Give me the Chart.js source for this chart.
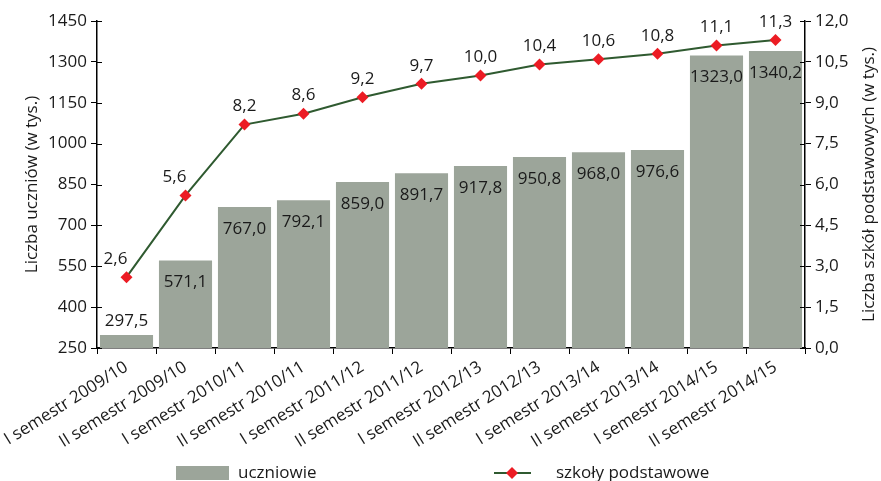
<!DOCTYPE html>
<html>
<head>
<meta charset="utf-8">
<script src="https://cdn.jsdelivr.net/npm/chart.js@4"></script>
<style>
  html, body { margin: 0; padding: 0; background: #fff; }
  #wrap { width: 881px; height: 481px; }
</style>
</head>
<body>
<div id="wrap"><canvas id="chart" width="881" height="481"></canvas></div>
<script>
// =======================
// DATA
// =======================

const categories = [
  "I semestr 2009/10", "II semestr 2009/10",
  "I semestr 2010/11", "II semestr 2010/11",
  "I semestr 2011/12", "II semestr 2011/12",
  "I semestr 2012/13", "II semestr 2012/13",
  "I semestr 2013/14", "II semestr 2013/14",
  "I semestr 2014/15", "II semestr 2014/15"
];

// liczba uczniów (w tys.)
const uczniowie = [297.5, 571.1, 767.0, 792.1, 859.0, 891.7, 917.8, 950.8, 968.0, 976.6, 1323.0, 1340.2];

// liczba szkół podstawowych (w tys.)
const szkoly = [2.6, 5.6, 8.2, 8.6, 9.2, 9.7, 10.0, 10.4, 10.6, 10.8, 11.1, 11.3];

const seriesNames = ["uczniowie", "szkoły podstawowe"];
const axisTitles = ["Liczba uczniów (w tys.)", "Liczba szkół podstawowych (w tys.)"];

// =======================
// STYLE
// =======================

const FONT = "'Open Sans', sans-serif";
const BAR_COLOR = "#9ca59a";
const LINE_COLOR = "#2f5a30";
const MARK_COLOR = "#ec1c24";
const TEXT_COLOR = "#1a1a1a";

function fmt(v, d) {
  return v.toFixed(d).replace(".", ",");
}

// =======================
// PLUGINS
// =======================

const valueLabels = {
  id: "valueLabels",
  afterDatasetsDraw(chart) {
    const ctx = chart.ctx;
    const bottom = chart.chartArea.bottom;
    ctx.save();
    ctx.font = "17px " + FONT;
    ctx.fillStyle = TEXT_COLOR;
    ctx.textAlign = "center";
    ctx.textBaseline = "middle";

    // bars (dataset 1)
    chart.getDatasetMeta(1).data.forEach((bar, i) => {
      const h = bottom - bar.y;
      const y = h < 35 ? bar.y - 14 : bar.y + 22;
      ctx.fillText(fmt(uczniowie[i], 1), bar.x, y);
    });

    // line points (dataset 0)
    const pts = chart.getDatasetMeta(0).data;
    pts.forEach((p, i) => {
      let dx = 0;
      if (i < pts.length - 1 && p.y - pts[i + 1].y > 40) dx = -11;
      ctx.fillText(fmt(szkoly[i], 1), p.x + dx, p.y - 18);
    });
    ctx.restore();
  }
};

const extras = {
  id: "extras",
  afterDraw(chart) {
    const ctx = chart.ctx;
    const area = chart.chartArea;
    ctx.save();

    // inner half of the y tick marks (ticks cross the axis line)
    ctx.strokeStyle = "#000";
    ctx.lineWidth = 1;
    const yl = chart.scales.y, yr = chart.scales.y1;
    ctx.beginPath();
    yl.ticks.forEach(t => {
      const py = Math.round(yl.getPixelForValue(t.value)) + 0.5;
      ctx.moveTo(area.left, py);
      ctx.lineTo(area.left + 5, py);
    });
    yr.ticks.forEach(t => {
      const py = Math.round(yr.getPixelForValue(t.value)) + 0.5;
      ctx.moveTo(area.right, py);
      ctx.lineTo(area.right - 5, py);
    });
    ctx.stroke();

    ctx.font = "17px " + FONT;
    ctx.fillStyle = TEXT_COLOR;

    // right axis title, reading bottom to top
    ctx.save();
    ctx.translate(869, (area.top + area.bottom) / 2);
    ctx.rotate(-Math.PI / 2);
    ctx.textAlign = "center";
    ctx.textBaseline = "middle";
    ctx.fillText(axisTitles[1], 0, 0);
    ctx.restore();

    // legend
    const y = 473;
    ctx.textBaseline = "middle";
    ctx.textAlign = "left";

    ctx.fillStyle = BAR_COLOR;
    ctx.fillRect(176, 466, 53, 14);
    ctx.fillStyle = TEXT_COLOR;
    ctx.fillText(seriesNames[0], 238, y);

    ctx.strokeStyle = LINE_COLOR;
    ctx.lineWidth = 2;
    ctx.beginPath();
    ctx.moveTo(494, y);
    ctx.lineTo(531, y);
    ctx.stroke();
    ctx.fillStyle = MARK_COLOR;
    ctx.beginPath();
    ctx.moveTo(512, y - 6);
    ctx.lineTo(518, y);
    ctx.lineTo(512, y + 6);
    ctx.lineTo(506, y);
    ctx.closePath();
    ctx.fill();
    ctx.fillStyle = TEXT_COLOR;
    ctx.fillText(seriesNames[1], 556, y);
    ctx.restore();
  }
};

// =======================
// CHART
// =======================

Chart.defaults.font.family = FONT;
Chart.defaults.color = TEXT_COLOR;

const ctx = document.getElementById("chart").getContext("2d");

new Chart(ctx, {
  type: "bar",
  data: {
    labels: categories,
    datasets: [
      {
        type: "line",
        label: seriesNames[1],
        data: szkoly,
        yAxisID: "y1",
        borderColor: LINE_COLOR,
        borderWidth: 2,
        pointStyle: "rectRot",
        pointRadius: 6,
        pointBackgroundColor: MARK_COLOR,
        pointBorderColor: MARK_COLOR,
        pointBorderWidth: 0,
        tension: 0,
        order: 0
      },
      {
        type: "bar",
        label: seriesNames[0],
        data: uczniowie,
        yAxisID: "y",
        backgroundColor: BAR_COLOR,
        categoryPercentage: 1,
        barPercentage: 0.9,
        order: 1
      }
    ]
  },
  options: {
    responsive: false,
    animation: false,
    layout: { padding: { top: 21, left: 0, right: 0, bottom: 0 } },
    plugins: {
      legend: { display: false },
      tooltip: { enabled: false }
    },
    scales: {
      x: {
        grid: { drawOnChartArea: false, color: "#000", tickLength: 6, offset: true },
        border: { color: "#000", width: 1.5 },
        ticks: {
          font: { size: 17 },
          color: TEXT_COLOR,
          minRotation: 32,
          maxRotation: 32,
          autoSkip: false,
          padding: 3
        },
        afterFit: s => { s.height = 133; s.paddingLeft = 0; s.paddingRight = 0; }
      },
      y: {
        position: "left",
        min: 250,
        max: 1450,
        grid: { drawOnChartArea: false, color: "#000", tickLength: 6 },
        border: { color: "#000", width: 1.5 },
        ticks: {
          stepSize: 150,
          font: { size: 17 },
          color: TEXT_COLOR,
          padding: 4,
          callback: v => String(v)
        },
        title: {
          display: true,
          text: axisTitles[0],
          font: { size: 17 },
          color: TEXT_COLOR,
          padding: { top: 22, bottom: 0 }
        },
        afterFit: s => { s.width = 97; }
      },
      y1: {
        position: "right",
        min: 0,
        max: 12,
        grid: { drawOnChartArea: false, color: "#000", tickLength: 6 },
        border: { color: "#000", width: 1.5 },
        ticks: {
          stepSize: 1.5,
          font: { size: 17 },
          color: TEXT_COLOR,
          padding: 4,
          callback: v => fmt(v, 1)
        },
        afterFit: s => { s.width = 76; }
      }
    }
  },
  plugins: [valueLabels, extras]
});
</script>
</body>
</html>
